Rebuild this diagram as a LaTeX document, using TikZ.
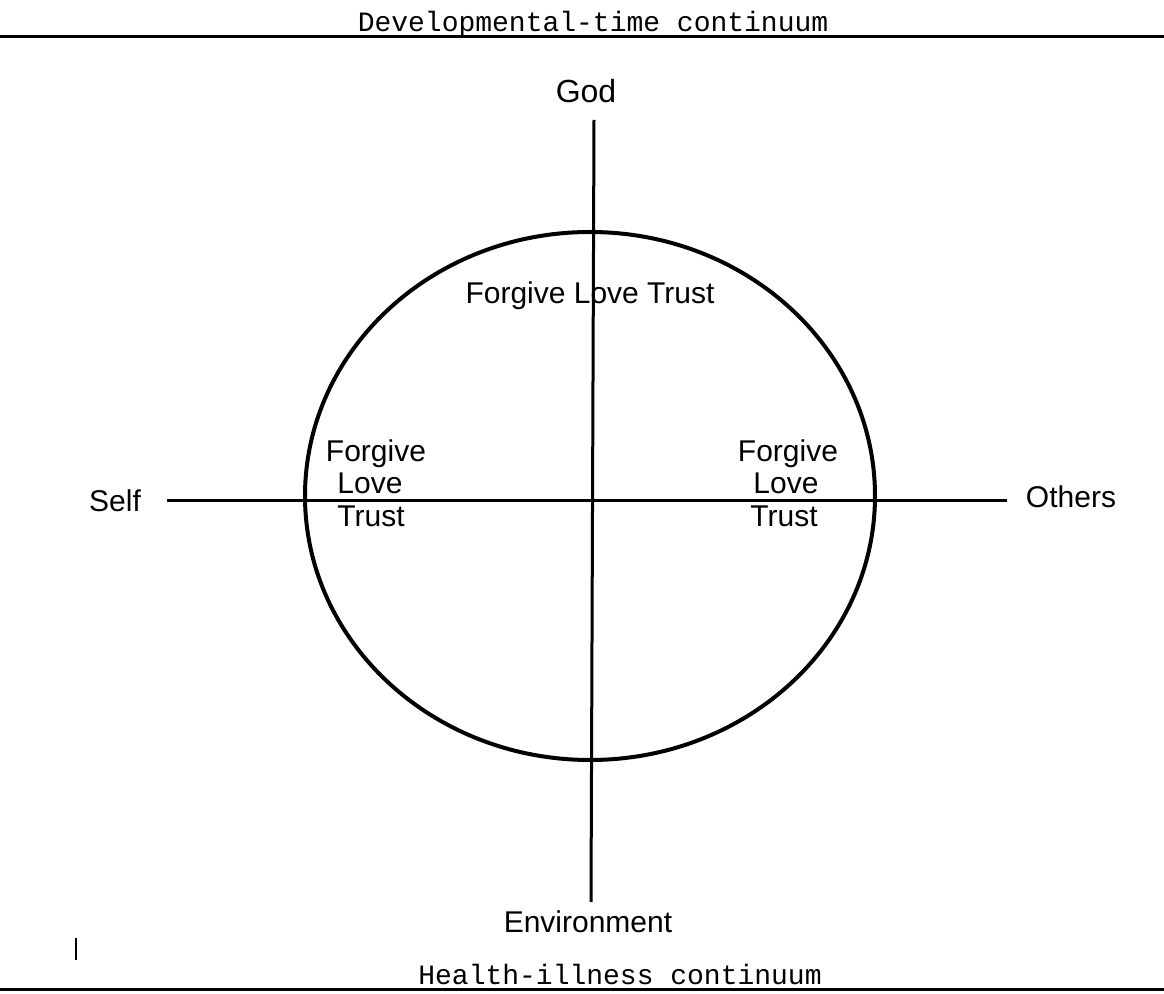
\documentclass[tikz,border=0pt]{standalone}
\usepackage{fontspec}
\usetikzlibrary{shapes.geometric}
\newfontfamily\labsans{Liberation Sans}
\newfontfamily\labmono{Liberation Mono}
\begin{document}
\begin{tikzpicture}[x=0.5pt,y=-0.5pt,
  lab/.style={font=\labsans\fontsize{15}{15}\selectfont, inner sep=0pt, anchor=base},
  cont/.style={font=\labmono\fontsize{14}{14}\selectfont, inner sep=0pt, anchor=base},
  rule/.style={line width=1.5pt},
  axis/.style={line width=1.5pt},
  ring/.style={line width=2pt}]
\useasboundingbox (0,0) rectangle (1164,994);
% top and bottom rules
\coordinate (tl) at (0,37);
\coordinate (tr) at (1164,37);
\coordinate (bl) at (0,990);
\coordinate (br) at (1164,990);
\draw[rule] (tl) -- (tr);
\draw[rule] (bl) -- (br);
\node[cont] (dev) at (593,32) {Developmental-time continuum};
\node[cont] (hea) at (620,985) {Health-illness continuum};
% axes
\coordinate (vt) at (594,120);
\coordinate (vb) at (591,902);
\coordinate (hl) at (167,501);
\coordinate (hr) at (1007,501);
\draw[axis] (vt) -- (vb);
\draw[axis] (hl) -- (hr);
% circle
\node[draw, ring, ellipse, minimum width=285pt, minimum height=264pt, inner sep=0pt] (c) at (590,496) {};
% labels
\node[lab, font=\labsans\fontsize{16}{16}\selectfont] (god) at (586,103) {God};
\node[lab] (self) at (115,512) {Self};
\node[lab] (oth) at (1071,508) {Others};
\node[lab] (env) at (588,933) {Environment};
\node[lab] (top) at (590,304) {Forgive Love Trust};
\node[lab] (lf) at (376,462) {Forgive};
\node[lab] (ll) at (370,494) {Love};
\node[lab] (lt) at (371,527) {Trust};
\node[lab] (rf) at (788,462) {Forgive};
\node[lab] (rl) at (786,494) {Love};
\node[lab] (rt) at (784,527) {Trust};
% stray mark
\coordinate (m1) at (76,938);
\coordinate (m2) at (76,960);
\draw[line width=1.2pt] (m1) -- (m2);
\end{tikzpicture}
\end{document}
